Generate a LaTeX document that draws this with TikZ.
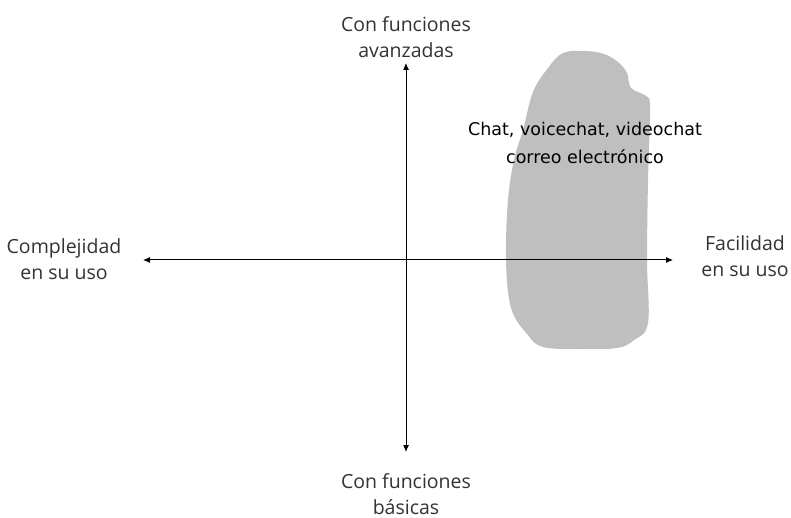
\documentclass[tikz,border=0pt]{standalone}
\usepackage{fontspec}
\usetikzlibrary{arrows.meta}
\setmainfont{Open Sans}
\newfontfamily\blobfont{DejaVu Sans}
\begin{document}
\begin{tikzpicture}[x=1pt,y=-1pt,
  axis/.style={line width=1pt,-{Latex[length=7pt,width=6pt]}},
  lbl/.style={align=center,font=\fontsize{19.5}{26}\selectfont,text=black!80,inner sep=0pt},
  blobtxt/.style={align=center,font=\blobfont\fontsize{17.5}{28}\selectfont,inner sep=0pt}]
\useasboundingbox (0,0) rectangle (791,518);
\fill[black!25] plot[smooth cycle,tension=0.6] coordinates {
 (563,53) (585,51) (604,54) (618,62) (627,73) (631,88) (646,96) (650,108)
 (648,180) (647,260) (648,323) (634,340) (617,348) (580,349) (543,347)
 (527,334) (511,308) (506,260) (508,200) (514,160) (523,130) (533,92) (548,68)};
\coordinate (l) at (143,260);
\coordinate (r) at (673,260);
\coordinate (t) at (406,63);
\coordinate (b) at (406,452);
\coordinate (c) at (406,260);
\draw[axis] (c) -- (l);
\draw[axis] (c) -- (r);
\draw[axis] (c) -- (t);
\draw[axis] (c) -- (b);
\node[lbl] (top) at (406,37) {Con funciones\\avanzadas};
\node[lbl] (bot) at (406,494) {Con funciones\\básicas};
\node[lbl] (left) at (64,259) {Complejidad\\en su uso};
\node[lbl] (right) at (745,256) {Facilidad\\en su uso};
\node[blobtxt] (chat) at (585,143) {Chat, voicechat, videochat\\correo electrónico};
\end{tikzpicture}
\end{document}
